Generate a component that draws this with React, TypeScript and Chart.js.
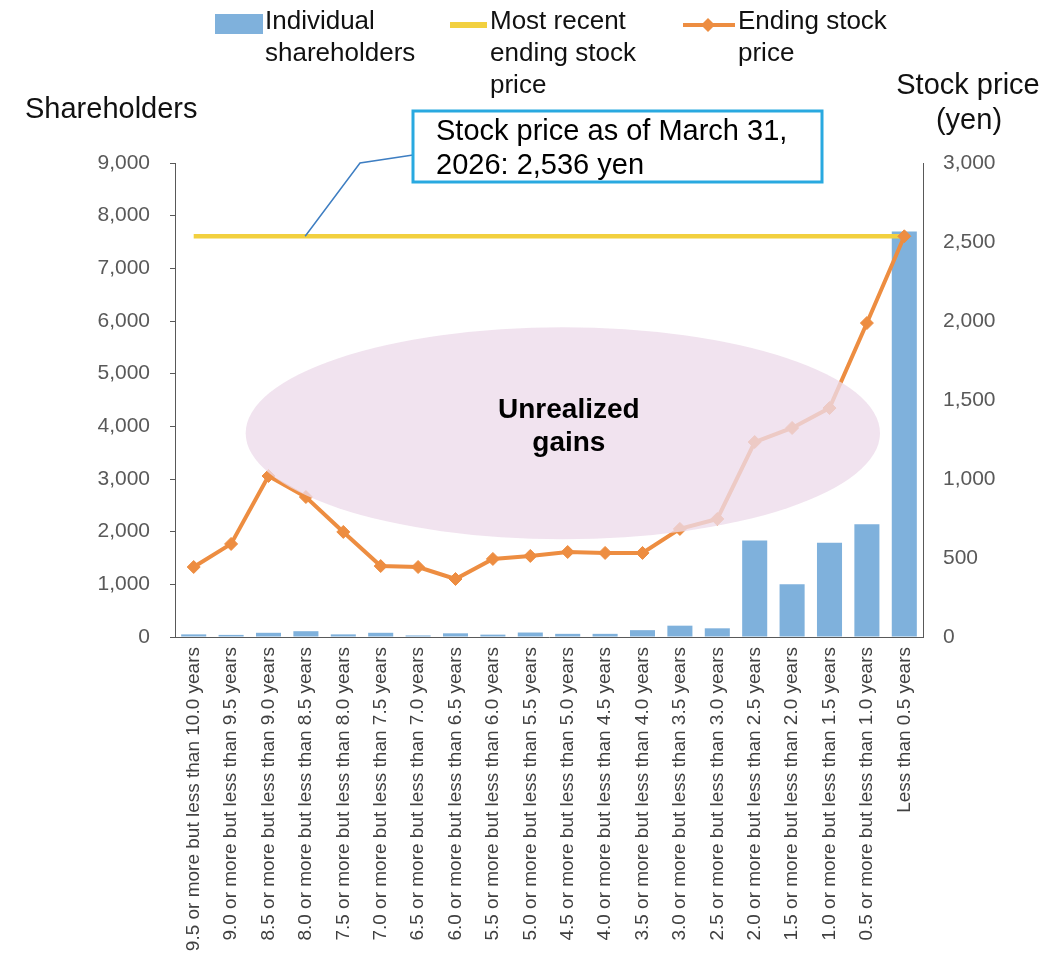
import { useEffect, useRef } from "react";
import { Chart, registerables } from "chart.js";

Chart.register(...registerables);

const categories = [
  "9.5 or more but less than 10.0 years",
  "9.0 or more but less than 9.5 years",
  "8.5 or more but less than 9.0 years",
  "8.0 or more but less than 8.5 years",
  "7.5 or more but less than 8.0 years",
  "7.0 or more but less than 7.5 years",
  "6.5 or more but less than 7.0 years",
  "6.0 or more but less than 6.5 years",
  "5.5 or more but less than 6.0 years",
  "5.0 or more but less than 5.5 years",
  "4.5 or more but less than 5.0 years",
  "4.0 or more but less than 4.5 years",
  "3.5 or more but less than 4.0 years",
  "3.0 or more but less than 3.5 years",
  "2.5 or more but less than 3.0 years",
  "2.0 or more but less than 2.5 years",
  "1.5 or more but less than 2.0 years",
  "1.0 or more but less than 1.5 years",
  "0.5 or more but less than 1.0 years",
  "Less than 0.5 years",
];

const shareholders = [50, 40, 80, 110, 50, 80, 30, 70, 45, 85, 60, 60, 130, 215, 165, 1830, 1000, 1790, 2140, 7700];
const endingPrice = [443, 589, 1019, 886, 665, 449, 443, 367, 494, 513, 538, 532, 532, 684, 747, 1234, 1323, 1449, 1987, 2536];
const latestPrice = [2536, 2536, 2536, 2536, 2536, 2536, 2536, 2536, 2536, 2536, 2536, 2536, 2536, 2536, 2536, 2536, 2536, 2536, 2536, 2536];

const leftTicks = [0, 1000, 2000, 3000, 4000, 5000, 6000, 7000, 8000, 9000];
const rightTicks = [0, 500, 1000, 1500, 2000, 2500, 3000];

const seriesNames = ["Individual shareholders", "Most recent ending stock price", "Ending stock price"];
const legendLines = [["Individual", "shareholders"], ["Most recent", "ending stock", "price"], ["Ending stock", "price"]];
const calloutLines = ["Stock price as of March 31,", "2026: 2,536 yen"];
const ellipseLines = ["Unrealized", "gains"];

const FONT = "'Liberation Sans', Arial, sans-serif";
const BLUE = "#7fb1dc";
const YELLOW = "#f2d03f";
const ORANGE = "#ed8d41";

const fmt = (v: number) => v.toLocaleString("en-US");

function drawDiamond(ctx: CanvasRenderingContext2D, x: number, y: number, r: number) {
  ctx.beginPath();
  ctx.moveTo(x, y - r);
  ctx.lineTo(x + r, y);
  ctx.lineTo(x, y + r);
  ctx.lineTo(x - r, y);
  ctx.closePath();
  ctx.fill();
}

const overlayPlugin = {
  id: "overlay",
  afterDatasetsDraw(chart: any) {
    const ctx: CanvasRenderingContext2D = chart.ctx;
    const xs = chart.scales.x;
    const y1 = chart.scales.y1;
    ctx.save();
    // ellipse "Unrealized gains"
    const cx = xs.getPixelForValue(9.87);
    const rx = xs.getPixelForValue(9.87 + 8.48) - cx;
    const cy = y1.getPixelForValue(1290);
    const ry = y1.getPixelForValue(1290 - 671) - cy;
    ctx.fillStyle = "rgba(237, 219, 234, 0.78)";
    ctx.beginPath();
    ctx.ellipse(cx, cy, rx, ry, 0, 0, Math.PI * 2);
    ctx.fill();
    ctx.fillStyle = "#000";
    ctx.font = `bold 28px ${FONT}`;
    ctx.textAlign = "center";
    ctx.textBaseline = "alphabetic";
    ctx.fillText(ellipseLines[0], cx + 6, cy - 15);
    ctx.fillText(ellipseLines[1], cx + 6, cy + 18);

    // callout connector
    const yLine = y1.getPixelForValue(latestPrice[0]);
    ctx.strokeStyle = "#3e7ec2";
    ctx.lineWidth = 1.5;
    ctx.beginPath();
    ctx.moveTo(xs.getPixelForValue(2.98), yLine);
    ctx.lineTo(360, 163);
    ctx.lineTo(413, 155);
    ctx.stroke();
    // callout box
    ctx.fillStyle = "#fff";
    ctx.fillRect(413, 111, 409, 71);
    ctx.strokeStyle = "#29a9e0";
    ctx.lineWidth = 3;
    ctx.strokeRect(413, 111, 409, 71);
    ctx.fillStyle = "#000";
    ctx.font = `29px ${FONT}`;
    ctx.textAlign = "left";
    ctx.fillText(calloutLines[0], 436, 140);
    ctx.fillText(calloutLines[1], 436, 174);

    // axis titles
    ctx.fillStyle = "#111";
    ctx.font = `29px ${FONT}`;
    ctx.textAlign = "left";
    ctx.fillText("Shareholders", 25, 118);
    ctx.textAlign = "center";
    ctx.fillText("Stock price", 968, 94);
    ctx.fillText("(yen)", 969, 129);

    // legend
    ctx.font = `26px ${FONT}`;
    ctx.textAlign = "left";
    ctx.fillStyle = BLUE;
    ctx.fillRect(215, 14, 48, 20);
    ctx.strokeStyle = YELLOW;
    ctx.lineWidth = 6;
    ctx.beginPath();
    ctx.moveTo(450, 25);
    ctx.lineTo(487, 25);
    ctx.stroke();
    ctx.strokeStyle = ORANGE;
    ctx.lineWidth = 4;
    ctx.beginPath();
    ctx.moveTo(683, 25);
    ctx.lineTo(735, 25);
    ctx.stroke();
    ctx.fillStyle = ORANGE;
    drawDiamond(ctx, 708, 25, 7);
    ctx.fillStyle = "#111";
    const lx = [265, 490, 738];
    legendLines.forEach((lines, i) => {
      lines.forEach((t, j) => ctx.fillText(t, lx[i], 29 + j * 32));
    });
    ctx.restore();
  },
};

export default function App() {
  const ref = useRef<HTMLCanvasElement>(null);
  useEffect(() => {
    if (!ref.current) return;
    const chart = new Chart(ref.current, {
      type: "bar",
      data: {
        labels: categories,
        datasets: [
          {
            type: "bar",
            label: seriesNames[0],
            data: shareholders,
            backgroundColor: BLUE,
            yAxisID: "y",
            order: 3,
            barPercentage: 0.67,
            categoryPercentage: 1,
          },
          {
            type: "line",
            label: seriesNames[1],
            data: latestPrice,
            borderColor: YELLOW,
            borderWidth: 4.5,
            pointRadius: 0,
            yAxisID: "y1",
            order: 2,
          },
          {
            type: "line",
            label: seriesNames[2],
            data: endingPrice,
            borderColor: ORANGE,
            backgroundColor: ORANGE,
            borderWidth: 4,
            pointStyle: "rectRot",
            pointRadius: 6.5,
            pointBorderWidth: 1,
            yAxisID: "y1",
            order: 1,
          },
        ] as any,
      },
      options: {
        responsive: false,
        animation: false,
        devicePixelRatio: 1,
        layout: { padding: { top: 163, left: 0, right: 0, bottom: 0 } },
        plugins: { legend: { display: false }, tooltip: { enabled: false } },
        scales: {
          x: {
            offset: true,
            grid: { display: false, drawTicks: false },
            border: { display: true, color: "#595959", width: 1 },
            ticks: {
              autoSkip: false,
              minRotation: 90,
              maxRotation: 90,
              padding: 10,
              color: "#404040",
              font: { family: FONT, size: 19 },
            },
            afterFit: (s: any) => {
              s.height = 316;
            },
          },
          y: {
            position: "left",
            min: 0,
            max: 9000,
            grid: { display: true, drawOnChartArea: false, drawTicks: true, tickLength: 5, color: "#595959" },
            border: { display: true, color: "#595959", width: 1 },
            ticks: {
              padding: 20,
              color: "#595959",
              font: { family: FONT, size: 21 },
              callback: (v: any) => fmt(Number(v)),
            },
            afterBuildTicks: (s: any) => {
              s.ticks = leftTicks.map((v) => ({ value: v }));
            },
            afterFit: (s: any) => {
              s.width = 175;
            },
          },
          y1: {
            position: "right",
            min: 0,
            max: 3000,
            grid: { display: false, drawOnChartArea: false, drawTicks: false },
            border: { display: true, color: "#595959", width: 1 },
            ticks: {
              padding: 20,
              color: "#595959",
              font: { family: FONT, size: 21 },
              callback: (v: any) => fmt(Number(v)),
            },
            afterBuildTicks: (s: any) => {
              s.ticks = rightTicks.map((v) => ({ value: v }));
            },
            afterFit: (s: any) => {
              s.width = 129;
            },
          },
        },
      },
      plugins: [overlayPlugin],
    });
    return () => chart.destroy();
  }, []);
  return (
    <div style={{ position: "absolute", left: 0, top: 0, width: 1052, height: 953, background: "#fff" }}>
      <canvas ref={ref} width={1052} height={953} style={{ display: "block", width: 1052, height: 953 }} />
    </div>
  );
}
